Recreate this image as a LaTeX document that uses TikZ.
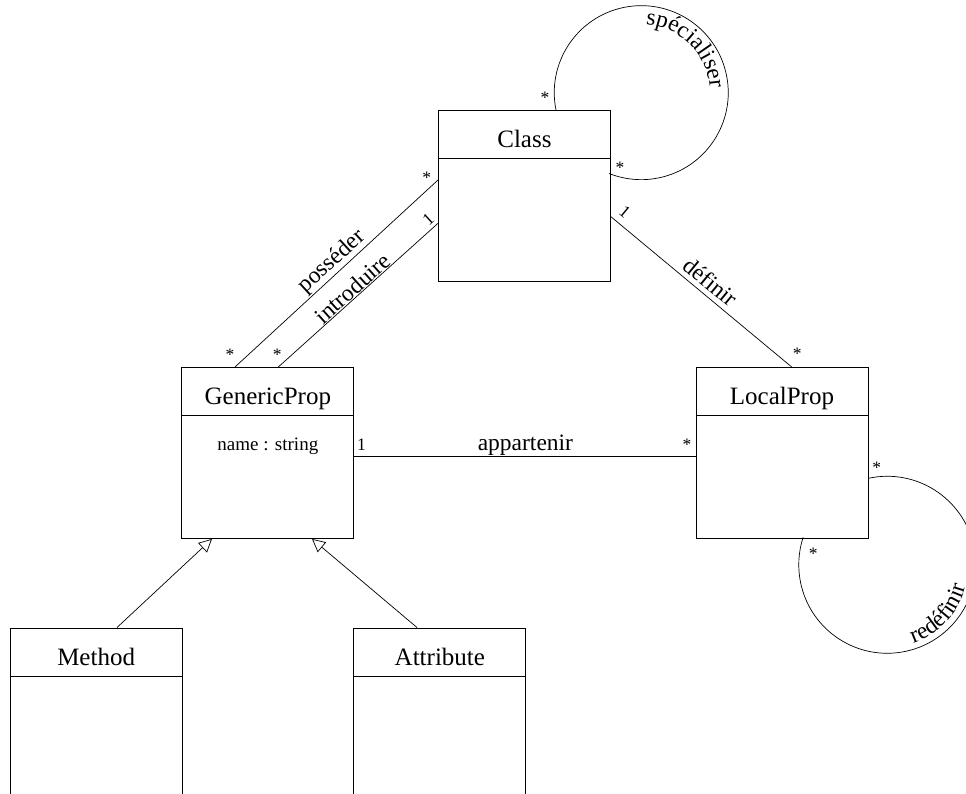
\documentclass[tikz,border=0pt]{standalone}
\usepackage{fontspec}
\setmainfont{Liberation Serif}
\usetikzlibrary{arrows.meta,calc,decorations.text}

% font sizes used in the class diagram
\newcommand\namefont{\fontsize{25}{30}\selectfont}
\newcommand\labfont{\fontsize{23.5}{28}\selectfont}
\newcommand\attfont{\fontsize{19}{23}\selectfont}
\newcommand\mulfont{\fontsize{17.5}{21}\selectfont}

\begin{document}
\begin{tikzpicture}[x=1pt,y=1pt,
  umlbox/.style={draw, line width=0.9pt, minimum width=172pt, minimum height=171pt,
                 inner sep=0pt, anchor=north west},
  boxtitle/.style={font=\namefont, anchor=base, inner sep=0pt},
  attr/.style={font=\attfont, anchor=base, inner sep=0pt},
  link/.style={line width=0.7pt},
  mult/.style={font=\mulfont, inner sep=0pt},
  assoc/.style={font=\labfont, inner sep=0pt},
  gen/.style={line width=0.7pt, -{Triangle[open,length=13pt,width=13pt]}},
  looplabel/.style={decorate, decoration={text along path, text align=center, text={|\labfont|#1}}}]
\useasboundingbox (0,0) rectangle (966,-793);
\clip (0,0) rectangle (966,-793);

% class boxes
\node[umlbox] (class)     at (438,-110)     {};
\node[umlbox] (generic)   at (181.4,-367)   {};
\node[umlbox] (local)     at (695.5,-367)   {};
\node[umlbox] (method)    at (9.7,-627.5)   {};
\node[umlbox] (attribute) at (353.4,-627.5) {};

% header compartments and class names
\foreach \b/\t in {class/Class, generic/GenericProp, local/LocalProp, method/Method, attribute/Attribute} {
  \draw[line width=0.9pt] ([yshift=-48.5pt]\b.north west) -- ([yshift=-48.5pt]\b.north east);
  \node[boxtitle] (\b-title) at ([yshift=-37.5pt]\b.north) {\t};
}
\node[attr] (generic-attr) at ([yshift=-83.7pt]generic.north) {name : string};

% associations
\draw[link] ([yshift=-70pt]class.north west)    -- ([xshift=53.6pt]generic.north west);
\draw[link] ([yshift=-113.3pt]class.north west) -- ([xshift=96.9pt]generic.north west);
\draw[link] ([yshift=-106.7pt]class.north east) -- ([xshift=96.2pt]local.north west);
\draw[link] ([yshift=-89pt]generic.north east)  -- ([yshift=-89pt]local.north west);

% association names
\node[assoc, rotate=42.5]  (posseder)   at (332,-261.7)  {posséder};
\node[assoc, rotate=41.8]  (introduire) at (352.5,-288.3) {introduire};
\node[assoc, rotate=-39.5] (definir)    at (710.8,-281.7) {définir};
\node[assoc, anchor=base]  (appartenir) at (525.4,-450.7) {appartenir};

% multiplicities
\node[mult, anchor=base] (m-pos-c) at (426.7,-183)   {*};
\node[mult, anchor=base] (m-pos-g) at (230,-360.7)   {*};
\node[mult, rotate=42]   (m-int-c) at (428.3,-219)   {1};
\node[mult, anchor=base] (m-int-g) at (277.3,-360.7) {*};
\node[mult, rotate=-39.5] (m-def-c) at (625,-212.3)  {1};
\node[mult, anchor=base] (m-def-l) at (797.3,-359.7) {*};
\node[mult, anchor=base] (m-app-g) at (361.5,-450.7) {1};
\node[mult, anchor=base] (m-app-l) at (687,-450)     {*};
\node[mult, anchor=base] (m-spe-a) at (545,-103.7)   {*};
\node[mult, anchor=base] (m-spe-b) at (620,-173)     {*};
\node[mult, anchor=base] (m-red-a) at (876.7,-473)   {*};
\node[mult, anchor=base] (m-red-b) at (813.3,-559.7) {*};

% generalisations
\draw[gen] ([xshift=107.3pt]method.north west)   -- ([xshift=30.6pt]generic.south west);
\draw[gen] ([xshift=63.6pt]attribute.north west) -- ([xshift=130.6pt]generic.south west);

% reflexive associations
\coordinate (spe-c) at (642,-92.5);
\coordinate (red-c) at (886.3,-565.3);
\draw[link] ([xshift=118pt]class.north west) arc[start angle=191.5, end angle=-111.7, radius=87];
\draw[link] ([yshift=-111.3pt]local.north east) arc[start angle=102.3, end angle=-198.1, radius=88.5];
\path[looplabel=spécialiser] ($(spe-c)+(95:68)$) arc[start angle=95, end angle=-5, radius=68];
\path[looplabel=redéfinir] ($(red-c)+(-92.7:82.5)$) arc[start angle=-92.7, end angle=7.3, radius=82.5];
\end{tikzpicture}
\end{document}
